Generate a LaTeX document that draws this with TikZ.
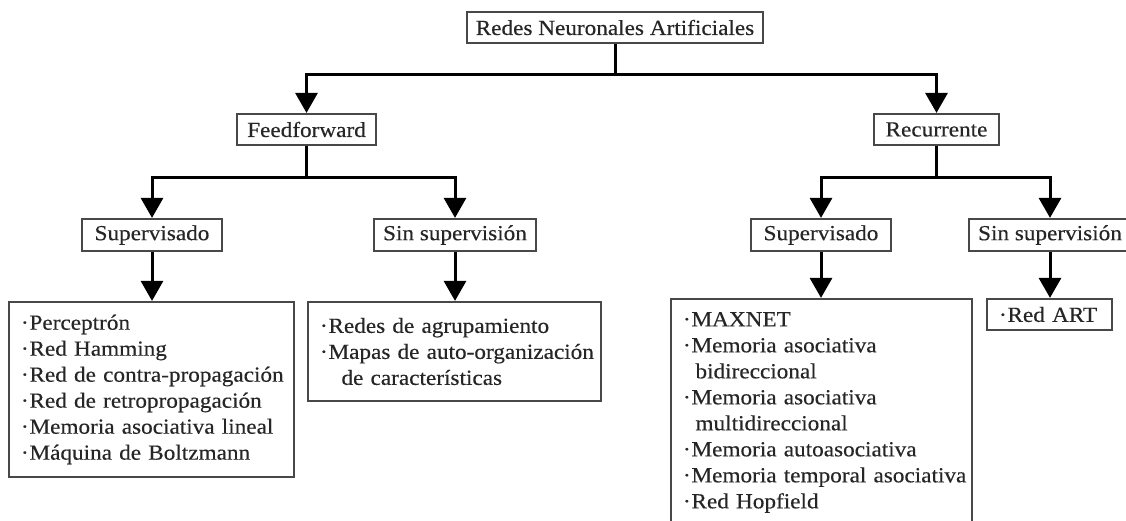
\documentclass[tikz,border=0pt]{standalone}
\usepackage{fontspec}
\setmainfont{Liberation Serif}[FakeStretch=1.08, FakeBold=0.3]
\usetikzlibrary{arrows.meta}
\definecolor{ink}{HTML}{262626}
\definecolor{frame}{HTML}{484848}
% one list entry with its bullet, and a continued line, kept on one line each
\newcommand\itm[1]{\mbox{\makebox[8.5pt][l]{·}#1}}
\newcommand\ind[2]{\mbox{\hspace*{8.5pt}\hspace*{#1}#2}}

\begin{document}
\begin{tikzpicture}[x=1pt,y=-1pt,
  font=\fontsize{21.5}{26}\selectfont, text=ink,
  box/.style={draw=frame, line width=2.2pt, inner sep=0pt, minimum height=31pt, align=center},
  list/.style={draw=frame, line width=2.2pt, inner xsep=12pt, inner ysep=0pt, align=left},
  conn/.style={line width=3pt, draw=black},
  tip/.style={-{Triangle[width=22pt,length=20pt]}}
]
\useasboundingbox (0,0) rectangle (1126,520);
\fill[white] (0,0) rectangle (1126,520);

% level 0
\node[box, minimum width=296pt] (top) at (615,27.5) {Redes Neuronales Artificiales};

% level 1
\node[box, minimum width=139pt] (ff)  at (306.5,129.5) {Feedforward};
\node[box, minimum width=125pt] (rec) at (936.5,129.5) {Recurrente};

% level 2
\node[box, minimum width=140pt, minimum height=32pt] (ffs) at (152,235) {Supervisado};
\node[box, minimum width=162pt, minimum height=32pt] (ffu) at (455,235) {Sin supervisión};
\node[box, minimum width=140pt, minimum height=32pt] (rs)  at (821,235) {Supervisado};
\node[box, minimum width=162pt, minimum height=32pt] (ru)  at (1050,235) {Sin supervisión};

% level 3: lists of networks
\node[list, minimum width=285pt, minimum height=175pt, text width=261pt] (ffsl) at (151.5,389.5)
  {\itm{Perceptrón}\\
   \itm{Red Hamming}\\
   \itm{Red de contra-propagación}\\
   \itm{Red de retropropagación}\\
   \itm{Memoria asociativa lineal}\\
   \itm{Máquina de Boltzmann}};
\node[list, minimum width=293pt, minimum height=99pt, text width=269pt] (ffsu) at (454.5,351.5)
  {\itm{Redes de agrupamiento}\\
   \itm{Mapas de auto-organización}\\
   \ind{13pt}{de características}};
\node[list, minimum width=301pt, minimum height=227pt, text width=277pt] (rsl) at (821.5,412.5)
  {\itm{MAXNET}\\
   \itm{Memoria asociativa}\\
   \ind{4pt}{bidireccional}\\
   \itm{Memoria asociativa}\\
   \ind{4pt}{multidireccional}\\
   \itm{Memoria autoasociativa}\\
   \itm{Memoria temporal asociativa}\\
   \itm{Red Hopfield}};
\node[list, minimum width=125pt, minimum height=31pt, text width=101pt] (rul) at (1049.5,314.5)
  {\itm{Red ART}};

% branching points
\coordinate (j0) at (615,74);
\coordinate (j1) at (306.5,177);
\coordinate (j2) at (936.5,177);

% connectors
\draw[conn] (top.south) -- (j0);
\draw[conn, tip] (j0) -| (ff.north);
\draw[conn, tip] (j0) -| (rec.north);

\draw[conn] (ff.south) -- (j1);
\draw[conn, tip] (j1) -| (ffs.north);
\draw[conn, tip] (j1) -| (ffu.north);

\draw[conn] (rec.south) -- (j2);
\draw[conn, tip] (j2) -| (rs.north);
\draw[conn, tip] (j2) -| (ru.north);

\draw[conn, tip] (ffs.south) -- (ffs.south |- ffsl.north);
\draw[conn, tip] (ffu.south) -- (ffu.south |- ffsu.north);
\draw[conn, tip] (rs.south)  -- (rs.south |- rsl.north);
\draw[conn, tip] (ru.south)  -- (ru.south |- rul.north);
\end{tikzpicture}
\end{document}
